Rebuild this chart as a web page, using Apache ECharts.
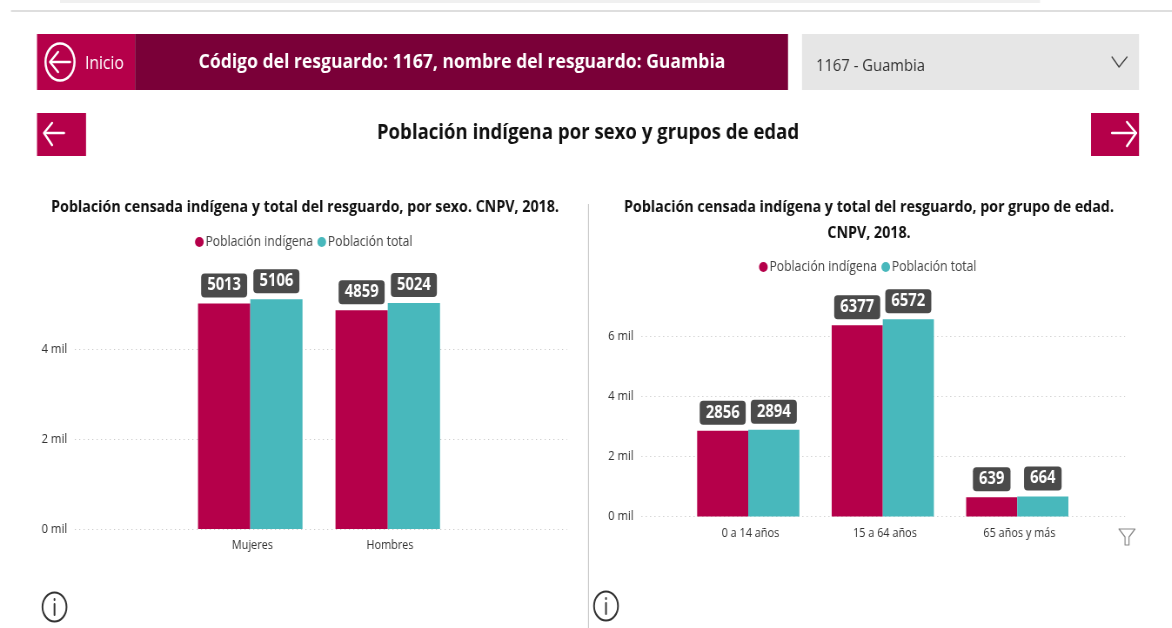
<!DOCTYPE html>
<html>
<head>
<meta charset="utf-8">
<title>Población indígena por sexo y grupos de edad</title>
<script src="https://cdn.jsdelivr.net/npm/echarts@6/dist/echarts.min.js"></script>
<style>
  html, body { margin: 0; padding: 0; background: #fff; overflow: hidden; width: 1172px; height: 628px; }
  /* the reference screenshot is squeezed horizontally, so the page is too */
  #page { width: 1347px; height: 628px; transform: scaleX(0.87); transform-origin: 0 0; }
</style>
</head>
<body>
<div id="page"></div>
<script>
  let seriesNames = ['Población indígena', 'Población total']
  let sexCategories = ['Mujeres', 'Hombres']
  let sexIndigena = [5013, 4859]
  let sexTotal = [5106, 5024]
  let ageCategories = ['0 a 14 años', '15 a 64 años', '65 años y más']
  let ageIndigena = [2856, 6377, 639]
  let ageTotal = [2894, 6572, 664]

  const SQUEEZE = 0.87
  const CRIMSON = '#b5004a'
  const WINE = '#7a0038'
  const TEAL = '#48b8bc'
  const FONT = '"Open Sans", "Noto Sans", sans-serif'

  // x positions below are screenshot pixels
  let sx = (x) => x / SQUEEZE
  let pts = (list) => list.map((p) => [sx(p[0]), p[1]])

  let chart = echarts.init(document.getElementById('page'), null, { renderer: 'canvas', width: 1347, height: 628 })

  function titleText (text, cx, top, size, weight, color) {
    return {
      text: text, left: sx(cx), top: top, textAlign: 'center', padding: 0,
      textStyle: { fontFamily: FONT, fontSize: size, fontWeight: weight, color: color || '#111', lineHeight: 26 }
    }
  }

  function legendAt (left, top) {
    return {
      data: seriesNames, left: sx(left), top: top, icon: 'circle', padding: 0,
      itemWidth: 10, itemHeight: 10, itemGap: 5, selectedMode: false,
      textStyle: { fontFamily: FONT, fontSize: 14, color: '#444', padding: [0, 0, 0, -3] }
    }
  }

  function gridAxisY (gridIndex, show) {
    return {
      type: 'value', gridIndex: gridIndex, min: 0, max: gridIndex === 0 ? 6000 : 8000, interval: 2000,
      show: show,
      axisLine: { show: false }, axisTick: { show: false },
      axisLabel: {
        showMaxLabel: false, margin: 9, fontFamily: FONT, fontSize: 13, color: '#333', padding: [6, 0, 0, 0],
        formatter: (v) => (v / 1000) + ' mil'
      },
      splitLine: { show: show, showMaxLine: false, lineStyle: { color: '#bdbdbd', type: [1, 4], width: 1 } }
    }
  }

  function barAxisX (gridIndex, categories) {
    return {
      type: 'category', gridIndex: gridIndex, data: categories,
      axisLine: { show: false }, axisTick: { show: false },
      axisLabel: { margin: 10, fontFamily: FONT, fontSize: 12.5, color: '#333', interval: 0, padding: [0, 0, 0, 5] }
    }
  }

  function barSeries (name, values, color, axisIndex) {
    return {
      name: name, type: 'bar', data: values, xAxisIndex: axisIndex, yAxisIndex: axisIndex,
      barGap: 0, barCategoryGap: '24%',
      itemStyle: { color: color },
      label: {
        show: true, position: 'top', distance: 6, color: '#fff', fontFamily: FONT, fontSize: 17, fontWeight: 'bold',
        backgroundColor: '#4a4a4a', borderRadius: 4, padding: [2, 7, 2, 7], lineHeight: 20
      }
    }
  }

  function icon (type, shape, style) {
    return { type: type, shape: shape, silent: true, style: style }
  }

  function label (text, x, y, size, weight, color, align) {
    return {
      type: 'text', x: sx(x), y: y, silent: true,
      style: { text: text, fontFamily: FONT, fontSize: size, fontWeight: weight, fill: color, align: align || 'left', verticalAlign: 'middle' }
    }
  }

  function box (x0, y0, x1, y1, color) {
    return icon('rect', { x: sx(x0), y: y0, width: sx(x1 - x0), height: y1 - y0 }, { fill: color })
  }

  function line (list, color, width) {
    return icon('polyline', { points: pts(list) }, { stroke: color, lineWidth: width, fill: null, lineCap: 'round', lineJoin: 'round' })
  }

  function infoIcon (cx, cy) {
    return [
      icon('ellipse', { cx: sx(cx), cy: cy, rx: sx(12), ry: 14.5 }, { stroke: '#333', lineWidth: 2, fill: null }),
      line([[cx, cy - 3], [cx, cy + 8]], '#333', 2),
      line([[cx, cy - 8], [cx, cy - 7]], '#333', 2)
    ]
  }

  let decorations = [
    box(60, 0, 1040, 3, '#f0f0f0'),
    box(11, 10, 1172, 12, '#dedede'),
    box(37, 34, 135, 90, CRIMSON),
    box(135, 34, 788, 90, WINE),
    box(802, 34, 1139, 90, '#e6e6e6'),
    box(37, 113, 86, 156, CRIMSON),
    box(1091, 113, 1139, 156, CRIMSON),
    box(588, 204, 589, 628, '#c8c8c8'),
    icon('ellipse', { cx: sx(60), cy: 62, rx: sx(14.5), ry: 18.5 }, { stroke: '#fff', lineWidth: 2.5, fill: null }),
    line([[51, 62], [70, 62]], '#fff', 2.5),
    line([[58, 52], [50, 62], [58, 72]], '#fff', 2.5),
    line([[45, 133], [64, 133]], '#fff', 2.5),
    line([[52, 123], [44, 133], [52, 145]], '#fff', 2.5),
    line([[1112, 133], [1136, 133]], '#fff', 2.5),
    line([[1127, 122], [1136, 133], [1127, 146]], '#fff', 2.5),
    line([[1112, 57], [1119, 67], [1127, 57]], '#444', 1.3),
    line([[1119, 529], [1135, 529], [1129, 537], [1129, 545], [1125, 545], [1125, 537], [1119, 529]], '#8a8a8a', 1.2),
    label('Inicio', 85, 64, 18, 'normal', '#fff'),
    label('Código del resguardo: 1167, nombre del resguardo: Guambia', 462, 62, 20.2, 'bold', '#fff', 'center'),
    label('1167 - Guambia', 816, 66, 17, 'normal', '#333')
  ].concat(infoIcon(54.5, 607), infoIcon(606, 606))

  chart.setOption({
    animation: false,
    backgroundColor: '#fff',
    title: [
      titleText('Población indígena por sexo y grupos de edad', 588, 120, 21.4, 'bold'),
      titleText('Población censada indígena y total del resguardo, por sexo. CNPV, 2018.', 305, 194, 16.4, 'bold'),
      titleText('Población censada indígena y total del resguardo, por grupo de edad.\nCNPV, 2018.', 869, 194, 16.4, 'bold')
    ],
    legend: [legendAt(195, 235), legendAt(759, 260)],
    color: [CRIMSON, TEAL],
    // grids 0 and 2 hold the rules and labels, 1 and 3 the narrower band of bars
    grid: [
      { left: sx(75), top: 259, width: sx(492), height: 270 },
      { left: sx(181.5), top: 259, width: sx(275), height: 270 },
      { left: sx(641.5), top: 276.5, width: sx(483.5), height: 240 },
      { left: sx(681), top: 276.5, width: sx(403.5), height: 240 }
    ],
    xAxis: [
      { type: 'category', gridIndex: 0, show: false, data: sexCategories },
      barAxisX(1, sexCategories),
      { type: 'category', gridIndex: 2, show: false, data: ageCategories },
      barAxisX(3, ageCategories)
    ],
    yAxis: [
      gridAxisY(0, true),
      Object.assign(gridAxisY(0, false), { gridIndex: 1 }),
      Object.assign(gridAxisY(2, true), { gridIndex: 2 }),
      Object.assign(gridAxisY(2, false), { gridIndex: 3 })
    ],
    series: [
      barSeries(seriesNames[0], sexIndigena, CRIMSON, 1),
      barSeries(seriesNames[1], sexTotal, TEAL, 1),
      barSeries(seriesNames[0], ageIndigena, CRIMSON, 3),
      barSeries(seriesNames[1], ageTotal, TEAL, 3)
    ],
    graphic: decorations
  })
</script>
</body>
</html>
